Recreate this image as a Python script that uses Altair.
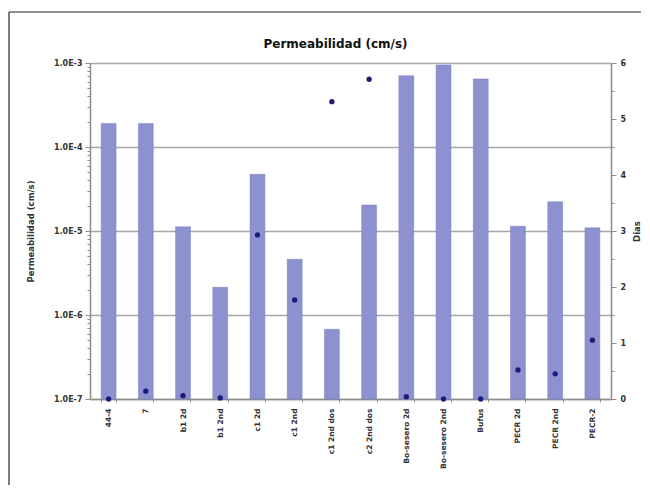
import altair as alt
import pandas as pd

categories = ["44-4", "7", "b1 2d", "b1 2nd", "c1 2d", "c1 2nd", "c1 2nd dos",
              "c2 2nd dos", "Bo-sesero 2d", "Bo-sesero 2nd", "Bufus",
              "PECR 2d", "PECR 2nd", "PECR-2"]
permeabilidad = [1.91e-4, 1.91e-4, 1.12e-5, 2.14e-6, 4.73e-5, 4.6e-6, 6.76e-7,
                 2.04e-5, 7.06e-4, 9.46e-4, 6.45e-4, 1.14e-5, 2.23e-5, 1.09e-5]
dias = [0, 0.14, 0.06, 0.02, 2.93, 1.77, 5.31, 5.71, 0.04, 0, 0, 0.52, 0.45, 1.05]

df = pd.DataFrame({"cat": categories, "perm": permeabilidad, "dias": dias})

FONT = "DejaVu Sans"
TXT = "#333333"
AXC = "#8c8c8c"

log_ticks = [m * 10.0 ** k for k in range(-7, -3) for m in range(1, 10)] + [1e-3]
major_test = "abs(log(datum.value)/LN10 - round(log(datum.value)/LN10)) < 0.001"
dias_ticks = [i * 0.5 for i in range(13)]

W, H = 521, 336

base = alt.Chart(df)

x_enc = alt.X("cat:N", sort=categories, title=None,
              scale=alt.Scale(paddingInner=0.6, paddingOuter=0.3),
              axis=alt.Axis(labelAngle=-90, labelFont=FONT, labelFontSize=7.5,
                            labelFontWeight="bold", labelColor=TXT,
                            tickBand="extent", tickSize=3, tickColor=AXC,
                            domainColor=AXC, domainWidth=1.5, labelPadding=6))

bars = base.mark_bar(color="#8d91d0", stroke="#7a7ec2", strokeWidth=0.5).encode(
    x=x_enc,
    y=alt.Y("perm:Q",
            scale=alt.Scale(type="log", domain=[1e-7, 1e-3], nice=False),
            axis=alt.Axis(values=log_ticks,
                          labelExpr="(" + major_test + ") ? '1.0E' + round(log(datum.value)/LN10) : ''",
                          title="Permeabilidad (cm/s)",
                          titleFont=FONT, titleFontSize=8.5, titleFontWeight="bold",
                          titleColor=TXT, titleX=-60, titleY=H / 2,
                          titleAlign="center", titleBaseline="middle", titleAngle=-90,
                          labelFont=FONT, labelFontSize=8, labelFontWeight="bold",
                          labelColor=TXT, labelPadding=3,
                          grid=True, gridColor="#aaa6a4", gridWidth=1.6,
                          gridOpacity={"condition": {"test": major_test, "value": 1}, "value": 0},
                          tickSize={"condition": {"test": major_test, "value": 5}, "value": 3},
                          tickColor=AXC, domainColor=AXC, domainWidth=1.5)),
    y2=alt.Y2(datum=1e-7),
)

points = base.mark_point(filled=True, color="#1c1c78", size=28, opacity=1).encode(
    x=alt.X("cat:N", sort=categories),
    y=alt.Y("dias:Q", scale=alt.Scale(domain=[0, 6], nice=False),
            axis=alt.Axis(orient="right", values=dias_ticks,
                          labelExpr="datum.value % 1 == 0 ? datum.value : ''",
                          title="Dias", titleFont=FONT, titleFontSize=8.5,
                          titleFontWeight="bold", titleColor=TXT,
                          titleX=25, titleY=H / 2, titleAlign="center",
                          titleBaseline="middle", titleAngle=-90,
                          labelFont=FONT, labelFontSize=8, labelFontWeight="bold",
                          labelColor=TXT, labelPadding=4, grid=False,
                          tickSize={"condition": {"test": "datum.value % 1 == 0", "value": 5}, "value": 3},
                          tickColor=AXC, domainColor=AXC, domainWidth=1.5)),
)

one = alt.Data(values=[{"a": 1}])
frame_top = alt.Chart(one).mark_rule(stroke="#222222", strokeWidth=1.2).encode(
    x=alt.value(-81), x2=alt.value(620), y=alt.value(-51))
frame_left = alt.Chart(one).mark_rule(stroke="#222222", strokeWidth=1.2).encode(
    x=alt.value(-81), y=alt.value(-51), y2=alt.value(500))

chart = alt.layer(frame_top, frame_left, bars, points).resolve_scale(y="independent").properties(
    width=W, height=H,
    title=alt.TitleParams("Permeabilidad (cm/s)", font=FONT, fontSize=12,
                          fontWeight="bold", color="#111111", anchor="middle",
                          dx=-15, offset=-40),
    autosize=alt.AutoSizeParams(type="none"),
    padding={"left": 82, "top": 55, "right": 30, "bottom": 86},
).configure_view(stroke=None)

chart.save("out.html", embed_options={"renderer": "svg", "actions": False})
